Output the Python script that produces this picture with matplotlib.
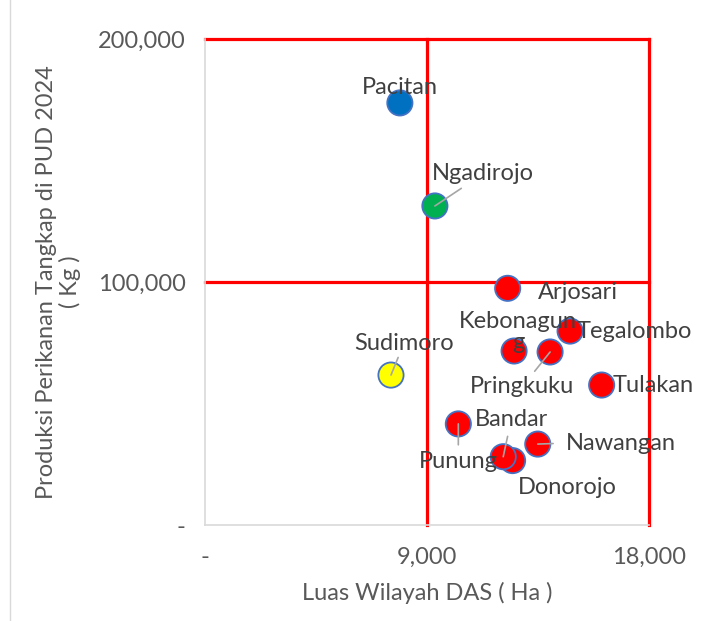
import matplotlib.pyplot as plt
from matplotlib.lines import Line2D
from matplotlib.ticker import FuncFormatter

plt.rcParams['font.family'] = ['Lato', 'DejaVu Sans']

# Luas wilayah DAS (Ha) dan produksi perikanan tangkap di PUD 2024 (Kg) per kecamatan
kecamatan = ['Pacitan', 'Ngadirojo', 'Sudimoro', 'Arjosari', 'Kebonagung',
             'Pringkuku', 'Tegalombo', 'Tulakan', 'Punung', 'Nawangan',
             'Donorojo', 'Bandar']
luas_das = [7900, 9320, 7540, 12270, 12530, 13990, 14800, 16080, 10270, 13490,
            12470, 12090]
produksi = [173700, 131300, 61700, 97400, 71600, 71200, 79800, 57600, 41600,
            33300, 26500, 28100]
warna = ['#0070C0', '#00B050', '#FFFF00'] + ['#FF0000'] * 9

x_ticks = [0, 9000, 18000]
y_ticks = [0, 100000, 200000]

# posisi label (offset piksel dari titik), perataan, dan garis penunjuk
label_style = {
    'Pacitan':    ((0, 15), 'center', False),
    'Ngadirojo':  ((48, 32), 'center', True),
    'Sudimoro':   ((13, 32), 'center', True),
    'Arjosari':   ((30, -4), 'left', False),
    'Kebonagung': ((4, 19), 'center', False),
    'Pringkuku':  ((-28, -35), 'center', True),
    'Tegalombo':  ((7, 0), 'left', False),
    'Tulakan':    ((11, 0), 'left', False),
    'Punung':     ((0, -38), 'center', True),
    'Nawangan':   ((28, 1), 'left', True),
    'Donorojo':   ((55, -27), 'center', False),
    'Bandar':     ((8, 37), 'center', True),
}

fs = 17
fig = plt.figure(figsize=(7.03, 6.21), dpi=100)
ax = fig.add_axes([205 / 703, 1 - 525 / 621, 444 / 703, 486 / 621])

ax.scatter(luas_das, produksi, s=330, c=warna, edgecolors='#4472C4',
           linewidths=1.3, zorder=3)

for nama, xv, yv in zip(kecamatan, luas_das, produksi):
    (dx, dy), ha, leader = label_style[nama]
    teks = 'Kebonagun\ng' if nama == 'Kebonagung' else nama
    if leader:
        ax.annotate('', xy=(xv, yv), xytext=(dx * 0.55, dy * 0.55),
                    textcoords='offset pixels',
                    arrowprops=dict(arrowstyle='-', color='#A6A6A6', lw=1.2,
                                    shrinkA=0, shrinkB=0), zorder=4)
    ax.annotate(teks, xy=(xv, yv), xytext=(dx, dy), textcoords='offset pixels',
                ha=ha, va='center', fontsize=fs, color='#404040',
                linespacing=0.95, zorder=5)

ax.set_xlim(0, 18000)
ax.set_ylim(0, 200000)
ax.set_xticks(x_ticks)
ax.set_yticks(y_ticks)
fmt = FuncFormatter(lambda v, pos: '-' if v == 0 else f'{int(v):,}')
ax.xaxis.set_major_formatter(fmt)
ax.yaxis.set_major_formatter(fmt)
ax.tick_params(length=0, labelsize=fs, labelcolor='#595959')
ax.tick_params(axis='y', pad=14)
ax.tick_params(axis='x', pad=16)

# garis batas kuadran merah (tanpa garis di nilai nol)
for v in x_ticks[1:]:
    ax.axvline(v, color='#FF0000', lw=2.3, clip_on=False, zorder=1)
for v in y_ticks[1:]:
    ax.axhline(v, color='#FF0000', lw=2.3, clip_on=False, zorder=1)

for side in ['top', 'right']:
    ax.spines[side].set_visible(False)
for side in ['left', 'bottom']:
    ax.spines[side].set_color('#D9D9D9')
    ax.spines[side].set_linewidth(1.2)

ax.set_xlabel('Luas Wilayah DAS ( Ha )', fontsize=fs, color='#595959')
ax.set_ylabel('Produksi Perikanan Tangkap di PUD 2024\n( Kg )', fontsize=fs,
              color='#595959', linespacing=1.1)
ax.xaxis.set_label_coords(0.5, -0.118)
ax.yaxis.set_label_coords(-0.28, 0.5)

# garis tepi kiri area grafik
fig.add_artist(Line2D([9.5 / 703, 9.5 / 703], [0, 1], color='#D9D9D9', lw=1))

fig.savefig('out.png', dpi=100)
